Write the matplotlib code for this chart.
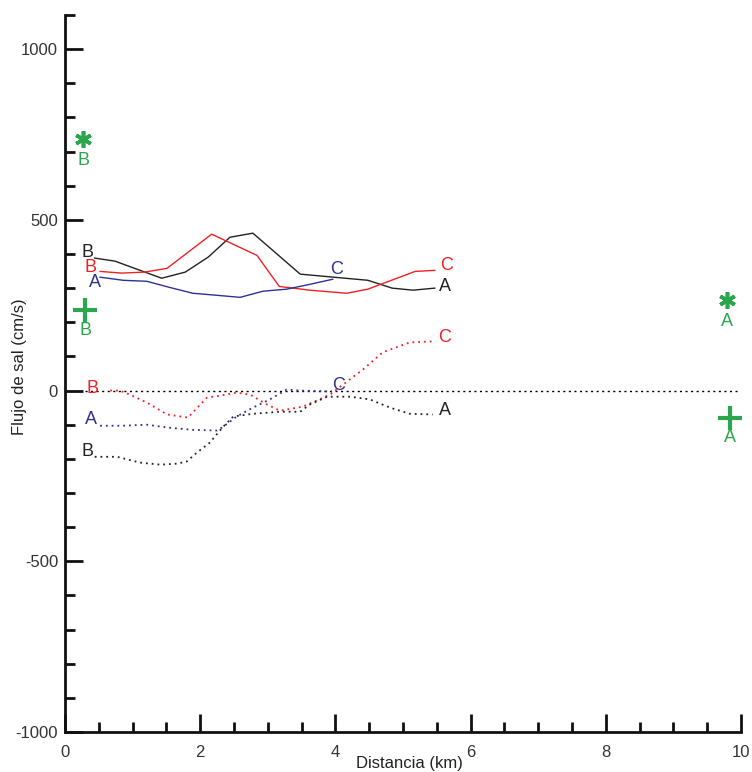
import matplotlib.pyplot as plt
from matplotlib.ticker import MultipleLocator

plt.rcParams['font.family'] = ['Liberation Sans', 'DejaVu Sans']
plt.rcParams['axes.unicode_minus'] = False

# solid curves (upper group)
black_x = [0.44, 0.74, 1.43, 1.78, 2.12, 2.44, 2.78, 3.48, 4.48, 4.84, 5.15, 5.47]
black_y = [388, 379, 329, 347, 391, 449, 461, 341, 323, 300, 294, 300]
red_x = [0.52, 0.84, 1.18, 1.51, 2.17, 2.84, 3.17, 3.62, 4.17, 4.48, 5.18, 5.47]
red_y = [349, 344, 347, 358, 458, 396, 305, 294, 285, 297, 349, 352]
blue_x = [0.52, 0.86, 1.21, 1.55, 1.89, 2.25, 2.59, 2.93, 3.28, 3.62, 3.96]
blue_y = [332, 323, 320, 302, 285, 279, 273, 291, 297, 311, 326]

# dotted curves (lower group)
red_d_x = [0.67, 0.81, 0.96, 1.21, 1.51, 1.82, 2.10, 2.29, 2.54, 2.74, 2.99, 3.18,
           3.52, 3.92, 4.17, 4.41, 4.70, 5.10, 5.44]
red_d_y = [0, 0, -12, -35, -70, -79, -21, -15, -6, -12, -41, -59,
           -47, -12, 26, 62, 112, 141, 144]
blue_d_x = [0.52, 0.84, 1.21, 1.55, 1.89, 2.25, 2.34, 2.54, 2.78, 3.03, 3.28, 3.48, 3.95]
blue_d_y = [-103, -103, -100, -109, -115, -117, -106, -76, -50, -26, 3, 0, -3]
black_d_x = [0.44, 0.77, 1.11, 1.41, 1.66, 1.80, 1.95, 2.14, 2.34, 2.49, 2.78, 3.18,
             3.48, 3.62, 3.88, 4.22, 4.51, 4.81, 5.10, 5.44]
black_d_y = [-194, -194, -211, -217, -214, -208, -182, -153, -106, -76, -68, -62,
             -62, -41, -18, -18, -26, -50, -68, -70]

# green markers: (x, y, label)
star_pts = [(0.27, 737, 'B'), (9.80, 264, 'A')]
plus_pts = [(0.30, 235, 'B'), (9.84, -79, 'A')]

c_black = '#222222'
c_red = '#ee2024'
c_blue = '#2e3192'
c_green = '#2ba64e'

fig = plt.figure(figsize=(7.52, 7.72), dpi=100)
ax = fig.add_axes([0.0864, 0.0518, 0.8989, 0.9288])

ax.axhline(0, xmin=0.03, xmax=1.0, color='black', lw=1.0, ls=(0, (1.5, 2.5)))

ax.plot(black_x, black_y, color=c_black, lw=1.0)
ax.plot(red_x, red_y, color=c_red, lw=1.0)
ax.plot(blue_x, blue_y, color=c_blue, lw=1.0)

ax.plot(red_d_x, red_d_y, color=c_red, lw=1.3, ls=(0, (1, 2.2)))
ax.plot(blue_d_x, blue_d_y, color=c_blue, lw=1.3, ls=(0, (1, 2.2)))
ax.plot(black_d_x, black_d_y, color=c_black, lw=1.3, ls=(0, (1, 2.2)))

fs = 13
labels = [
    (0.34, 405, 'B', c_black), (0.38, 361, 'B', c_red), (0.44, 317, 'A', c_blue),
    (4.02, 354, 'C', c_blue), (5.64, 366, 'C', c_red), (5.62, 305, 'A', c_black),
    (0.41, 6, 'B', c_red), (0.38, -85, 'A', c_blue), (0.34, -179, 'B', c_black),
    (4.05, 15, 'C', c_blue), (5.62, 155, 'C', c_red), (5.62, -59, 'A', c_black),
]
for x, y, s, c in labels:
    ax.text(x, y, s, color=c, fontsize=fs, ha='center', va='center')

for x, y, s in star_pts:
    ax.plot(x, y, marker=(6, 2, 0), ms=12, mew=2.6, color=c_green, ls='none')
    ax.text(x, y - 62, s, color=c_green, fontsize=fs, ha='center', va='center')
for x, y, s in plus_pts:
    ax.plot(x, y, marker='+', ms=17, mew=3, color=c_green, ls='none')
    ax.text(x, y - 58, s, color=c_green, fontsize=fs, ha='center', va='center')

ax.set_xlim(0, 10)
ax.set_ylim(-1000, 1100)
ax.set_yticks([-1000, -500, 0, 500, 1000])
ax.xaxis.set_major_locator(MultipleLocator(2))
ax.xaxis.set_minor_locator(MultipleLocator(0.5))
ax.yaxis.set_minor_locator(MultipleLocator(100))

for side in ['top', 'right']:
    ax.spines[side].set_visible(False)
for side in ['left', 'bottom']:
    ax.spines[side].set_linewidth(2)
    ax.spines[side].set_color('#111111')

ax.tick_params(which='major', direction='in', length=13, width=2, color='#111111',
               labelsize=12, labelcolor='#333333')
ax.tick_params(which='minor', direction='in', length=7, width=2, color='#111111')
ax.tick_params(axis='y', which='major', pad=5)
ax.tick_params(axis='x', which='major', pad=9)

ax.set_xlabel('Distancia (km)', fontsize=12, color='#222222')
ax.xaxis.set_label_coords(0.51, -0.034)
ax.set_ylabel('Flujo de sal (cm/s)', fontsize=12, color='#222222')
ax.yaxis.set_label_coords(-0.056, 0.51)

fig.savefig('out.png', dpi=100)
